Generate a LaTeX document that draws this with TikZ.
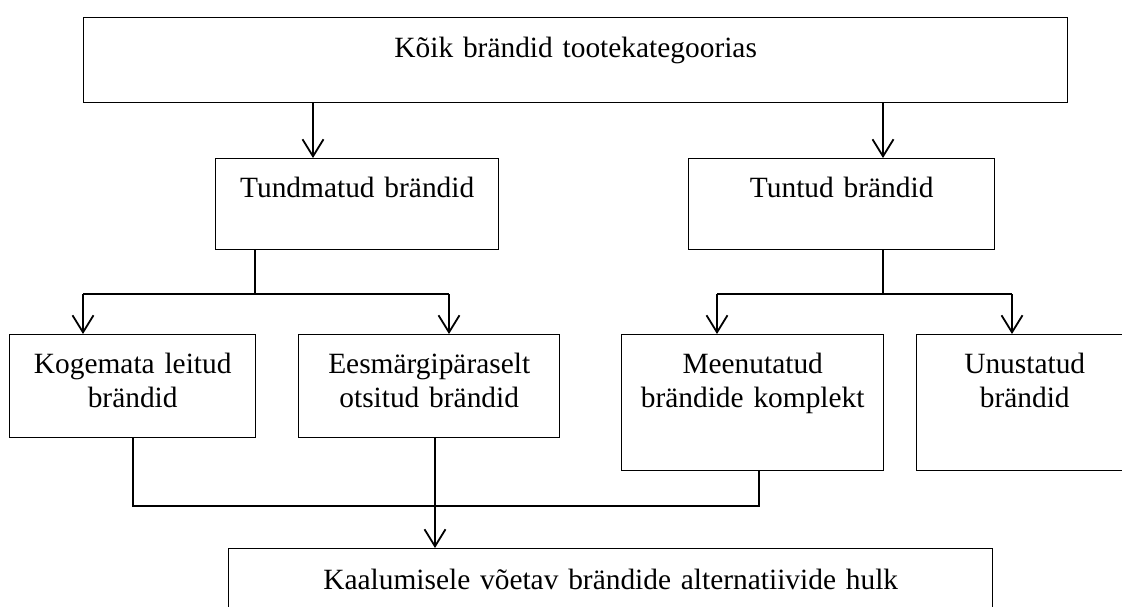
\documentclass[tikz,border=0pt]{standalone}
\usepackage{fontspec}
\setmainfont{Liberation Serif}
\usetikzlibrary{arrows.meta}

\begin{document}
\begin{tikzpicture}[x=0.5pt,y=-0.5pt,
  box/.style={draw, line width=0.7pt, inner sep=0pt, anchor=north west,
    align=center, font=\fontsize{14.7}{17}\selectfont, text height=19.5pt},
  link/.style={line width=0.9pt},
  arr/.style={link, -{Straight Barb[length=8.5pt,width=10.5pt]}}]
\useasboundingbox (0,0) rectangle (1122,606);
\clip (0,0) rectangle (1122,606);

% category boxes
\node[box, text width=492pt, text height=20pt, text depth=22.5pt] (all) at (83,17)
  {Kõik brändid tootekategoorias};
\node[box, text width=141.5pt, text depth=26pt] (unknown) at (215,158)
  {Tundmatud brändid};
\node[box, text width=153pt, text depth=26pt] (known) at (688,158)
  {Tuntud brändid};
\node[box, text width=123pt, text depth=32pt] (accidental) at (9,334)
  {Kogemata leitud\\brändid};
\node[box, text width=130.5pt, text depth=32pt] (sought) at (298,334)
  {Eesmärgipäraselt\\otsitud brändid};
\node[box, text width=131pt, text depth=48.5pt] (recalled) at (621,334)
  {Meenutatud\\brändide komplekt};
\node[box, text width=108pt, text depth=48.5pt] (forgotten) at (916,334)
  {Unustatud\\brändid};
\node[box, text width=382pt, text height=20.5pt, text depth=30pt] (consider) at (228,548)
  {Kaalumisele võetav brändide alternatiivide hulk};

% junction points
\coordinate (ua) at (313,0);
\coordinate (ka) at (883,0);
\coordinate (uj) at (255,294);
\coordinate (kj) at (883,294);
\coordinate (ul) at (83,294);
\coordinate (ur) at (449,294);
\coordinate (kl) at (717,294);
\coordinate (kr) at (1012,294);
\coordinate (bl) at (133,506);
\coordinate (br) at (759,506);
\coordinate (bm) at (435,506);

% first split
\draw[arr] (all.south -| ua) -- (unknown.north -| ua);
\draw[arr] (all.south -| ka) -- (known.north -| ka);

% unknown brands
\draw[link] (unknown.south -| uj) -- (uj);
\draw[link] (ul) -- (ur);
\draw[arr] (ul) -- (accidental.north -| ul);
\draw[arr] (ur) -- (sought.north -| ur);

% known brands
\draw[link] (known.south -| kj) -- (kj);
\draw[link] (kl) -- (kr);
\draw[arr] (kl) -- (recalled.north -| kl);
\draw[arr] (kr) -- (forgotten.north -| kr);

% consideration set
\draw[link] (accidental.south -| bl) -- (bl) -- (br) -- (recalled.south -| br);
\draw[arr] (sought.south -| bm) -- (consider.north -| bm);
\end{tikzpicture}
\end{document}
